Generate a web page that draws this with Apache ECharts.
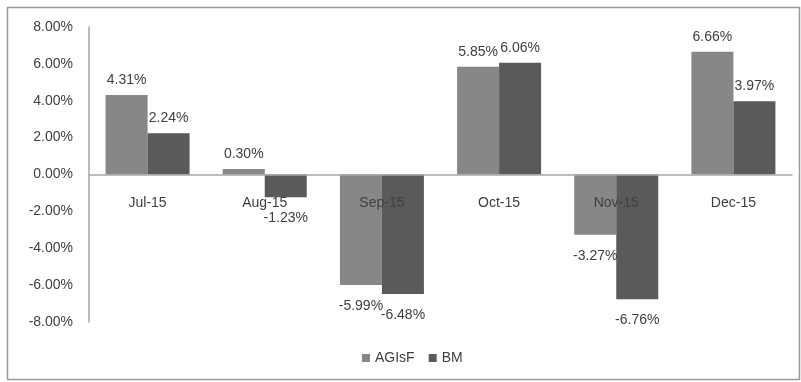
<!DOCTYPE html>
<html><head><meta charset="utf-8">
<script src="https://cdn.jsdelivr.net/npm/echarts@6/dist/echarts.min.js"></script>
<style>html,body{margin:0;padding:0;background:#fff}#c{width:801px;height:382px}</style>
</head><body><div id="c"></div>
<script>
const categories = ['Jul-15','Aug-15','Sep-15','Oct-15','Nov-15','Dec-15'];
const agisf = [4.31, 0.30, -5.99, 5.85, -3.27, 6.66];
const bm = [2.24, -1.23, -6.48, 6.06, -6.76, 3.97];
const seriesNames = ['AGIsF','BM'];
const yTicks = {min:-8, max:8, interval:2};

const FONT = 'Liberation Sans';
function mk(vals){
  return vals.map(v => ({
    value: v,
    label: v >= 0 ? {position:'top', distance:8} : {position:'bottom', distance:14}
  }));
}
const chart = echarts.init(document.getElementById('c'));
chart.setOption({
  animation:false,
  backgroundColor:'#fff',
  textStyle:{fontFamily:FONT},
  graphic:[{type:'rect', shape:{x:7.5,y:7.5,width:792,height:372}, style:{fill:'none', stroke:'#9a9a9a', lineWidth:1.5}, z:-1}],
  grid:{left:89, right:9, top:27, bottom:60},
  legend:{
    data:seriesNames, bottom:12, left:357, icon:'rect', itemWidth:8, itemHeight:8, itemGap:14,
    textStyle:{fontFamily:FONT, fontSize:14, color:'#404040'}
  },
  xAxis:{
    type:'category', data:categories, z:10,
    axisLine:{onZero:true, lineStyle:{color:'#a6a6a6', width:1.5}},
    axisTick:{show:false},
    axisLabel:{fontFamily:FONT, fontSize:14, color:'#404040', margin:-126}
  },
  yAxis:{
    type:'value', min:yTicks.min, max:yTicks.max, interval:yTicks.interval,
    splitLine:{show:false},
    axisLine:{show:true, lineStyle:{color:'#a6a6a6', width:1.5}},
    axisTick:{show:false},
    axisLabel:{fontFamily:FONT, fontSize:14, color:'#404040', margin:16, formatter:v=>v.toFixed(2)+'%'}
  },
  series:[
    {name:seriesNames[0], type:'bar', data:mk(agisf), barWidth:42, barGap:'0%',
     itemStyle:{color:'#878787'},
     label:{show:true, fontFamily:FONT, fontSize:14, color:'#404040', formatter:p=>p.value.toFixed(2)+'%'}},
    {name:seriesNames[1], type:'bar', data:mk(bm), barWidth:42, barGap:'0%',
     itemStyle:{color:'#5a5a5a'},
     label:{show:true, fontFamily:FONT, fontSize:14, color:'#404040', formatter:p=>p.value.toFixed(2)+'%'}}
  ]
});
</script></body></html>
